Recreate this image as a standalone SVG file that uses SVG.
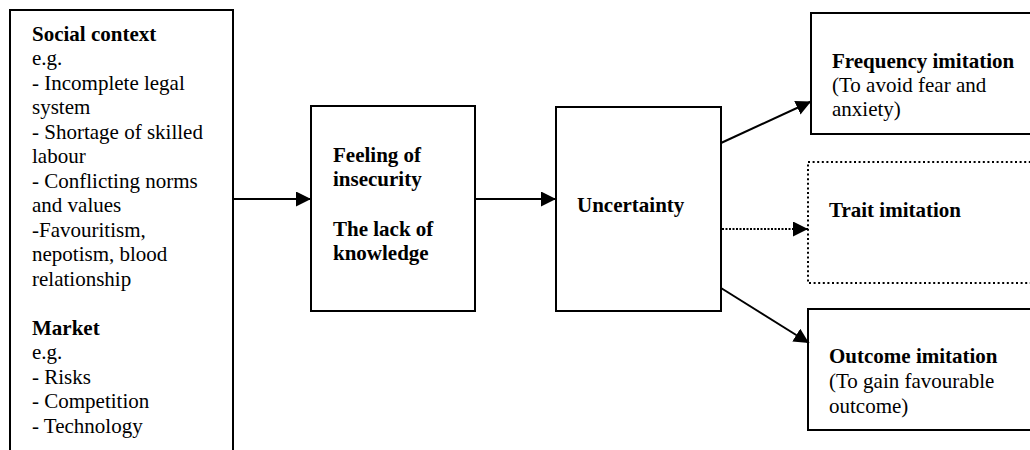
<svg xmlns="http://www.w3.org/2000/svg" width="1030" height="450" viewBox="0 0 1030 450" font-family="'Liberation Serif', 'Times New Roman', 'DejaVu Serif', serif">
  <style>
    text { font-family: "Liberation Serif", "Times New Roman", "DejaVu Serif", serif; font-size: 21px; fill: #000; }
    .b { font-weight: bold; }
    .box { fill: #fff; stroke: #000; stroke-width: 2; }
    .dotbox { fill: #fff; stroke: #000; stroke-width: 2; stroke-dasharray: 2 2.6; }
    .conn { fill: none; stroke: #000; stroke-width: 2; }
    .dotted { stroke-dasharray: 2 1.5; }
  </style>
  <defs>
    <marker id="head" markerUnits="userSpaceOnUse" markerWidth="16" markerHeight="16" refX="15" refY="7.5" orient="auto">
      <path d="M0,0 L15,7.5 L0,15 Z" fill="#000"/>
    </marker>
  </defs>

  <rect width="1030" height="450" fill="#fff"/>

  <g id="node-context">
    <rect class="box" x="10" y="10" width="223" height="460"/>
    <text x="32" y="40.5" class="b">Social context</text>
    <text x="32" y="65">e.g.</text>
    <text x="32" y="89.5">- Incomplete legal</text>
    <text x="32" y="114">system</text>
    <text x="32" y="138.5">- Shortage of skilled</text>
    <text x="32" y="163">labour</text>
    <text x="32" y="187.5">- Conflicting norms</text>
    <text x="32" y="212">and values</text>
    <text x="32" y="236.5">-Favouritism,</text>
    <text x="32" y="261">nepotism, blood</text>
    <text x="32" y="285.5">relationship</text>
    <text x="32" y="334.5" class="b">Market</text>
    <text x="32" y="359">e.g.</text>
    <text x="32" y="383.5">- Risks</text>
    <text x="32" y="408">- Competition</text>
    <text x="32" y="432.5">- Technology</text>
  </g>

  <g id="node-feeling">
    <rect class="box" x="311" y="106" width="164" height="205"/>
    <text x="333" y="162" class="b">Feeling of</text>
    <text x="333" y="186" class="b">insecurity</text>
    <text x="333" y="235.5" class="b">The lack of</text>
    <text x="333" y="259.5" class="b">knowledge</text>
  </g>

  <g id="node-uncertainty">
    <rect class="box" x="556" y="107" width="165" height="204"/>
    <text x="577" y="211.5" class="b">Uncertainty</text>
  </g>

  <g id="node-frequency">
    <rect class="box" x="811" y="13" width="240" height="121"/>
    <text x="832" y="68" class="b">Frequency imitation</text>
    <text x="832" y="92">(To avoid fear and</text>
    <text x="832" y="116">anxiety)</text>
  </g>

  <g id="node-trait">
    <rect class="dotbox" x="808" y="162" width="240" height="121"/>
    <text x="829" y="217" class="b">Trait imitation</text>
  </g>

  <g id="node-outcome">
    <rect class="box" x="808" y="309" width="240" height="121"/>
    <text x="829" y="363" class="b">Outcome imitation</text>
    <text x="829" y="388">(To gain favourable</text>
    <text x="829" y="413">outcome)</text>
  </g>

  <g id="connectors">
    <line class="conn" x1="233" y1="199" x2="311" y2="199" marker-end="url(#head)"/>
    <line class="conn" x1="475" y1="199" x2="556" y2="199" marker-end="url(#head)"/>
    <line class="conn" x1="721" y1="143" x2="811" y2="101.5" marker-end="url(#head)"/>
    <line class="conn dotted" x1="722" y1="229" x2="808" y2="229" marker-end="url(#head)"/>
    <line class="conn" x1="721" y1="288" x2="809" y2="343" marker-end="url(#head)"/>
  </g>
</svg>
